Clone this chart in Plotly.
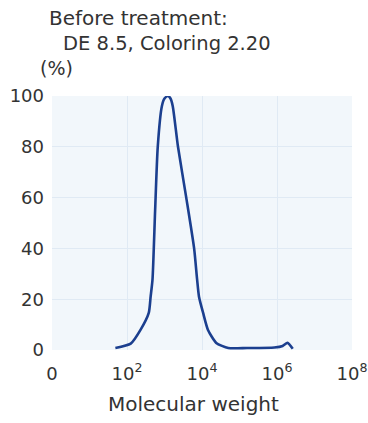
import plotly.graph_objects as go

# Data (molecular weight, % response)
log_mw = [1.69, 2.10, 2.36, 2.58, 2.63, 2.68, 2.75, 2.82, 2.93, 3.00, 3.09, 3.16, 3.22, 3.36, 3.58, 3.79, 3.87, 3.92, 4.03, 4.16, 4.38, 4.70, 5.20, 5.93, 6.15, 6.28, 6.42]
response = [0.8, 2.5, 7.9, 14.6, 21.0, 27.7, 55.0, 80.0, 96.0, 99.0, 100.0, 99.0, 96.0, 80.0, 60.0, 40.0, 27.7, 21.0, 14.6, 7.9, 2.8, 0.8, 0.8, 1.0, 1.6, 2.8, 0.5]
mw = [10 ** v for v in log_mw]

tick_vals = [1, 1e2, 1e4, 1e6, 1e8]
tick_text = ["0", "10<sup>2</sup>", "10<sup>4</sup>", "10<sup>6</sup>", "10<sup>8</sup>"]
y_ticks = [0, 20, 40, 60, 80, 100]

FONT = "DejaVu Sans"
TXT = "#333333"
W, H = 368, 423
L, R, T, B = 52, 16, 96, 73

fig = go.Figure()
fig.add_trace(go.Scatter(
    x=mw, y=response, mode="lines",
    line=dict(color="#1b3f8f", width=2.6, shape="spline", smoothing=0.6),
    hoverinfo="skip", showlegend=False,
))

fig.update_layout(
    width=W, height=H,
    margin=dict(l=L, r=R, t=T, b=B, autoexpand=False),
    paper_bgcolor="white",
    plot_bgcolor="#f2f7fb",
    font=dict(family=FONT, color=TXT, size=18),
    xaxis=dict(
        type="log", range=[0, 8], automargin=False,
        tickvals=tick_vals, ticktext=tick_text,
        ticklabeloverflow="allow",
        showgrid=True, gridcolor="#e0eaf4", gridwidth=1,
        zeroline=False, showline=False, ticks="",
        ticklabelstandoff=11,
        tickfont=dict(family=FONT, size=18, color=TXT),
    ),
    yaxis=dict(
        range=[0, 100], automargin=False,
        tickvals=y_ticks,
        ticklabeloverflow="allow",
        showgrid=True, gridcolor="#e0eaf4", gridwidth=1,
        zeroline=False, showline=False, ticks="",
        ticklabelstandoff=7,
        tickfont=dict(family=FONT, size=18, color=TXT),
    ),
)

def note(text, xpx, ypx, size, anchor="left"):
    fig.add_annotation(
        text=text, xref="paper", yref="paper",
        x=(xpx - L) / (W - L - R), y=1 + (T - ypx) / (H - T - B),
        xanchor=anchor, yanchor="middle", showarrow=False,
        font=dict(family=FONT, size=size, color=TXT),
    )

note("Before treatment:", 47, 18, 20)
note("DE 8.5, Coloring 2.20", 61, 44, 19.5)
note("(%)", 38, 68, 19)
note("Molecular weight", 193, 404, 20, anchor="center")

fig.write_html("out.html")
